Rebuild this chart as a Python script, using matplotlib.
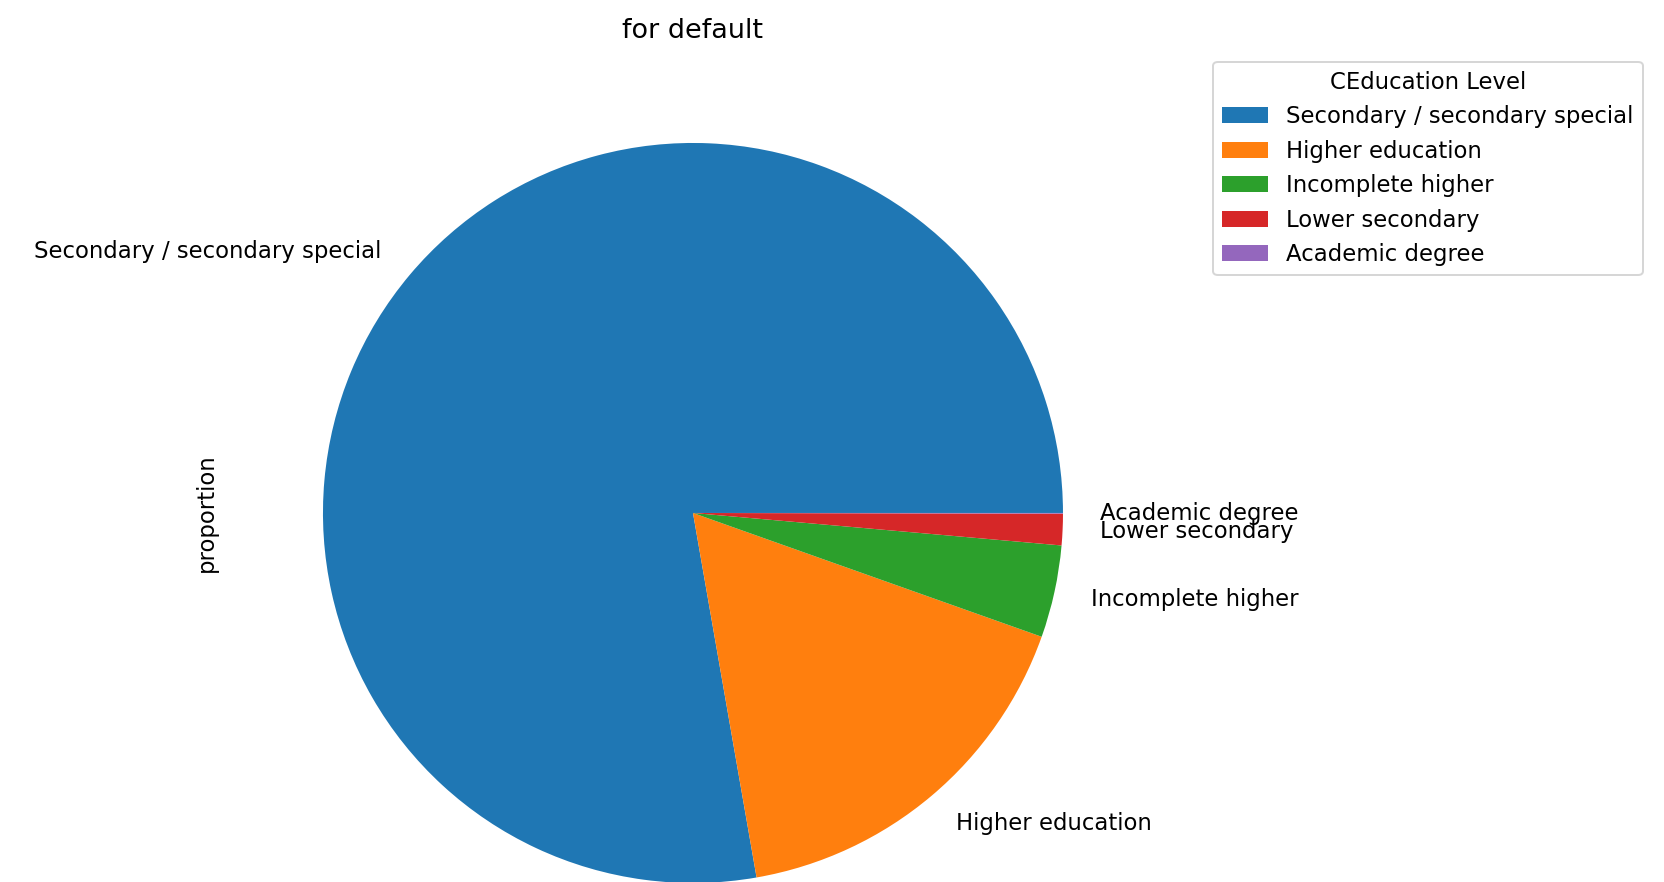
import matplotlib
matplotlib.use("Agg")
import matplotlib.pyplot as plt

# Share of each education level among defaulted clients
categories = [
    "Secondary / secondary special",
    "Higher education",
    "Incomplete higher",
    "Lower secondary",
    "Academic degree",
]
proportion = [0.7775, 0.1682, 0.0403, 0.0137, 0.0003]

plt.rcParams["font.size"] = 11.4

fig = plt.figure(figsize=(1664 / 144, 882 / 144), dpi=144)
ax = fig.add_axes([0.1385, -0.106, 0.5559, 1.0488])

ax.pie(proportion, labels=categories,
       colors=["#1f77b4", "#ff7f0e", "#2ca02c", "#d62728", "#9467bd"])
ax.set_ylabel("proportion", labelpad=6.5)
ax.set_title("for default", fontsize=13.5)
ax.legend(title="CEducation Level", loc="upper left", bbox_to_anchor=(1.05, 1))

fig.savefig("out.png", dpi=144)
